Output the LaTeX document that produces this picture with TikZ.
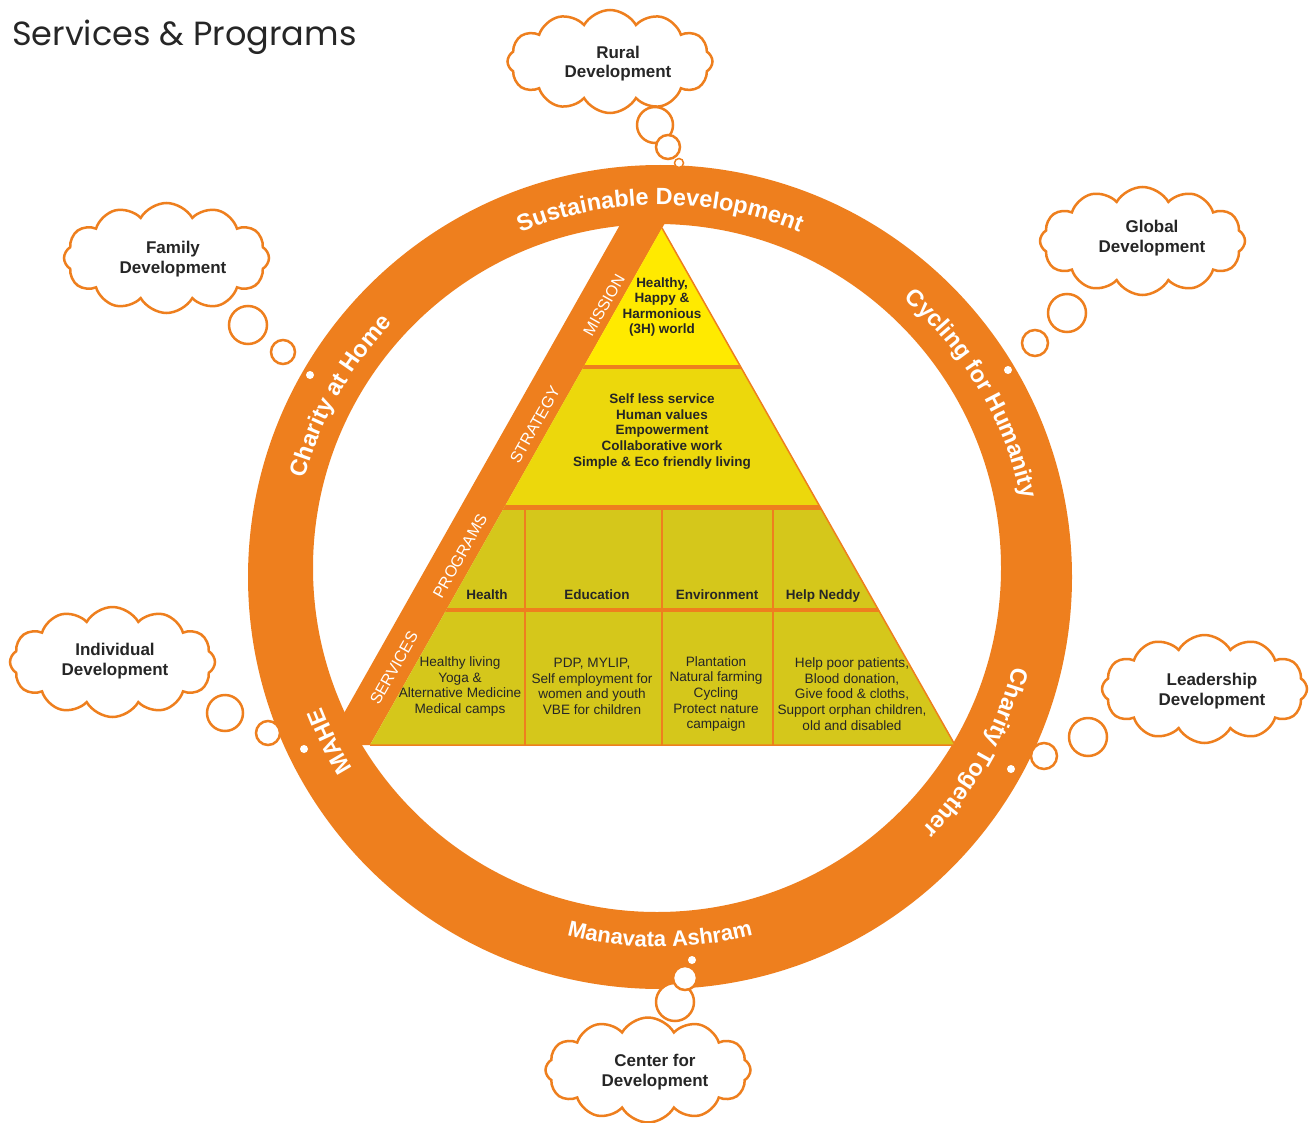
\documentclass[tikz,border=0pt]{standalone}
\usepackage{fontspec}
\setmainfont{Liberation Sans}
\newfontfamily\titlefont{Poppins}
\usetikzlibrary{shapes.symbols,decorations.text}
\definecolor{ringorange}{HTML}{EE7F1E}
\definecolor{missionyellow}{HTML}{FFEA00}
\definecolor{strategyyellow}{HTML}{ECD80C}
\definecolor{lowyellow}{HTML}{D5C71B}
\definecolor{darktext}{HTML}{262626}
\newcommand{\ringfont}{\fontsize{23.5}{23.5}\selectfont\bfseries\color{white}}
\begin{document}
\begin{tikzpicture}[x=1pt,y=1pt,
  thought/.style={cloud, cloud puffs=12, cloud puff arc=120, cloud ignores aspect,
    draw=ringorange, line width=2.5pt, fill=white, minimum width=205pt, minimum height=106pt, inner sep=0pt},
  cloudtext/.style={font=\fontsize{17}{19.5}\selectfont\bfseries, text=darktext, align=center},
  bubble/.style={circle, draw=ringorange, line width=2.5pt, fill=white, inner sep=0pt},
  ringdot/.style={circle, fill=white, inner sep=0pt, minimum size=8pt},
  celltext/.style={font=\fontsize{13.5}{15.6}\selectfont\bfseries, text=darktext, align=center, inner sep=0pt},
  svctext/.style={font=\fontsize{13.6}{15.6}\selectfont, text=darktext, align=center, inner sep=0pt},
  sidelabel/.style={font=\fontsize{16}{16}\selectfont, text=white, rotate=60.5, inner sep=0pt},
  sepline/.style={ringorange, line width=4.5pt},
  colline/.style={ringorange, line width=2pt}]
\useasboundingbox (0,0) rectangle (1311,-1123);

% title
\node[anchor=base west, font=\titlefont\fontsize{33.5}{33.5}\selectfont, text=darktext, inner sep=0pt] (title) at (12,-46) {Services \& Programs};

% ring
\fill[ringorange, even odd rule] (660,-577) circle[radius=412] (657,-568) circle[radius=344];
% strip along left side of pyramid
\fill[ringorange] (634,-200) -- (678,-200) -- (370,-745) -- (326,-745) -- cycle;

% pyramid
\begin{scope}
\clip (662,-228) -- (370,-745) -- (955,-745) -- cycle;
\fill[missionyellow] (300,-200) rectangle (1000,-367);
\fill[strategyyellow] (300,-367) rectangle (1000,-507.5);
\fill[lowyellow] (300,-507.5) rectangle (1000,-760);
\draw[sepline] (300,-367) -- (1000,-367);
\draw[sepline] (300,-507.5) -- (1000,-507.5);
\draw[sepline] (300,-610) -- (1000,-610);
\draw[colline] (525,-507) -- (525,-760);
\draw[colline] (662,-507) -- (662,-760);
\draw[colline] (773,-507) -- (773,-760);
\end{scope}
\draw[ringorange, line width=1.5pt] (662,-228) -- (955,-745) -- (370,-745);

% pyramid texts
\node[celltext] (mission) at (662,-307) {Healthy,\\Happy \&\\Harmonious\\(3H) world};
\node[celltext] (strategy) at (662,-431.5) {Self less service\\Human values\\Empowerment\\Collaborative work\\Simple \& Eco friendly living};
\node[celltext, anchor=base] (health) at (487,-599) {Health};
\node[celltext, anchor=base] (education) at (597,-599) {Education};
\node[celltext, anchor=base] (environment) at (717,-599) {Environment};
\node[celltext, anchor=base] (helpneddy) at (823,-599) {Help Neddy};
\node[svctext] (svc1) at (460,-686.5) {Healthy living\\Yoga \&\\Alternative Medicine\\Medical camps};
\node[svctext] (svc2) at (592,-686.5) {PDP, MYLIP,\\Self employment for\\women and youth\\VBE for children};
\node[svctext] (svc3) at (716,-694) {Plantation\\Natural farming\\Cycling\\Protect nature\\campaign};
\node[svctext] (svc4) at (852,-694) {Help poor patients,\\Blood donation,\\Give food \& cloths,\\Support orphan children,\\old and disabled};

% side labels
\node[sidelabel] (lmission) at (604,-305) {MISSION};
\node[sidelabel] (lstrategy) at (535,-425) {STRATEGY};
\node[sidelabel] (lprograms) at (460,-556) {PROGRAMS};
\node[sidelabel] (lservices) at (394,-668) {SERVICES};

% ring texts
\path[decorate, decoration={text along path, text align=center, text={|\ringfont|Sustainable Development}}]
  (660,-577) ++(130:372) arc[start angle=130, end angle=50, radius=372];
\path[decorate, decoration={text along path, text align=center, text={|\ringfont|Cycling for Humanity}}]
  (660,-577) ++(70:370) arc[start angle=70, end angle=-9, radius=370];
\path[decorate, decoration={text along path, text align=center, text={|\ringfont|Charity at Home}}]
  (660,-577) ++(190:369) arc[start angle=190, end angle=111, radius=369];
\path[decorate, decoration={text along path, text align=center, text={|\ringfont|MAHE}}]
  (660,-577) ++(236:362) arc[start angle=236, end angle=177, radius=362];
\path[decorate, decoration={text along path, text align=center, text={|\ringfont|Charity Together}}]
  (660,-577) ++(11:364) arc[start angle=11, end angle=-69, radius=364];
\path[decorate, decoration={text along path, text align=center, text={|\fontsize{22}{22}\selectfont\bfseries\color{white}|Manavata Ashram}}]
  (660,-577) ++(230:370) arc[start angle=230, end angle=310, radius=370];

% clouds
\node[thought, minimum height=103pt] (rural) at (610,-61.5) {};
\node[cloudtext] (ruralt) at (618,-63.5) {Rural\\Development};
\node[thought, minimum height=108pt] (global) at (1142.5,-241) {};
\node[cloudtext] (globalt) at (1152,-238) {Global\\Development};
\node[thought, minimum height=108pt] (leader) at (1204.5,-689) {};
\node[cloudtext] (leadert) at (1212,-691) {Leadership\\Development};
\node[thought, minimum height=110pt] (indiv) at (112.5,-662) {};
\node[cloudtext] (indivt) at (115,-661) {Individual\\Development};
\node[thought, minimum height=110pt] (family) at (166.5,-258) {};
\node[cloudtext] (familyt) at (173,-259) {Family\\Development};
\node[thought, minimum height=105pt] (center) at (648,-1070) {};
\node[cloudtext] (centert) at (655,-1072) {Center for\\Development};

% bubbles
\node[bubble, minimum size=36pt] (rb1) at (655,-125) {};
\node[bubble, minimum size=24pt] (rb2) at (668,-147) {};
\node[bubble, minimum size=9pt, line width=1.5pt] (rb3) at (679,-163) {};
\node[bubble, minimum size=38pt] (gb1) at (1067,-313) {};
\node[bubble, minimum size=26pt] (gb2) at (1035,-343) {};
\node[ringdot] (gb3) at (1008,-370) {};
\node[bubble, minimum size=38pt] (lb1) at (1088,-737) {};
\node[bubble, minimum size=26pt] (lb2) at (1044,-756) {};
\node[ringdot] (lb3) at (1011,-769) {};
\node[bubble, minimum size=36pt] (ib1) at (225,-713) {};
\node[bubble, minimum size=24pt] (ib2) at (268,-733) {};
\node[ringdot] (ib3) at (304,-749) {};
\node[bubble, minimum size=38pt] (fb1) at (248,-325) {};
\node[bubble, minimum size=24pt] (fb2) at (283,-352) {};
\node[ringdot] (fb3) at (310,-375) {};
\node[bubble, minimum size=38pt] (cb1) at (675,-1002) {};
\node[bubble, minimum size=24pt] (cb2) at (685,-978) {};
\node[ringdot] (cb3) at (692,-960) {};
\end{tikzpicture}
\end{document}
